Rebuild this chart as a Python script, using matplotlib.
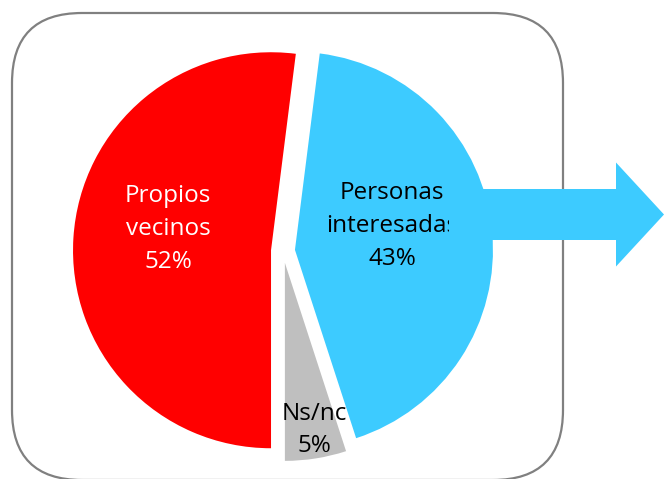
import matplotlib
matplotlib.use("Agg")
import matplotlib.pyplot as plt
from matplotlib.patches import FancyBboxPatch, FancyArrow

labels = ["Propios\nvecinos", "Ns/nc", "Personas\ninteresadas"]
values = [52, 5, 43]
colors = ["#FF0000", "#BFBFBF", "#3DCBFF"]
text_colors = ["white", "black", "black"]

W, H = 664, 479
fig = plt.figure(figsize=(W / 100, H / 100), dpi=100)
ax = fig.add_axes([0, 0, 1, 1])

# rounded frame
frame = FancyBboxPatch((12, H - 480), 551, 467,
                       boxstyle="round,pad=0,rounding_size=70",
                       facecolor="white", edgecolor="#808080", linewidth=1.6, zorder=1)
ax.add_patch(frame)

wedges, _ = ax.pie(values, colors=colors, startangle=82.8, counterclock=True,
                   explode=[12, 12, 12], radius=198, center=(283, H - 251),
                   wedgeprops=dict(linewidth=0), frame=True)
for w in wedges:
    w.set_zorder(2)
ax.set_xlim(0, W)
ax.set_ylim(0, H)
ax.set_aspect("equal")
ax.axis("off")

font = dict(family=["Open Sans", "DejaVu Sans"], fontsize=17.5, ha="center", va="center",
            linespacing=1.5, zorder=3)
label_pos = [(168, H - 229), (314, H - 430), (392, H - 226)]
for lab, v, tc, (x, y) in zip(labels, values, text_colors, label_pos):
    ax.text(x, y, f"{lab}\n{v}%", color=tc, **font)

# arrow
arrow = FancyArrow(449, H - 214.5, 215, 0, width=51, head_width=104, head_length=48,
                   length_includes_head=True, color=colors[2], linewidth=0, zorder=4)
ax.add_patch(arrow)

fig.savefig("out.png", dpi=100)
